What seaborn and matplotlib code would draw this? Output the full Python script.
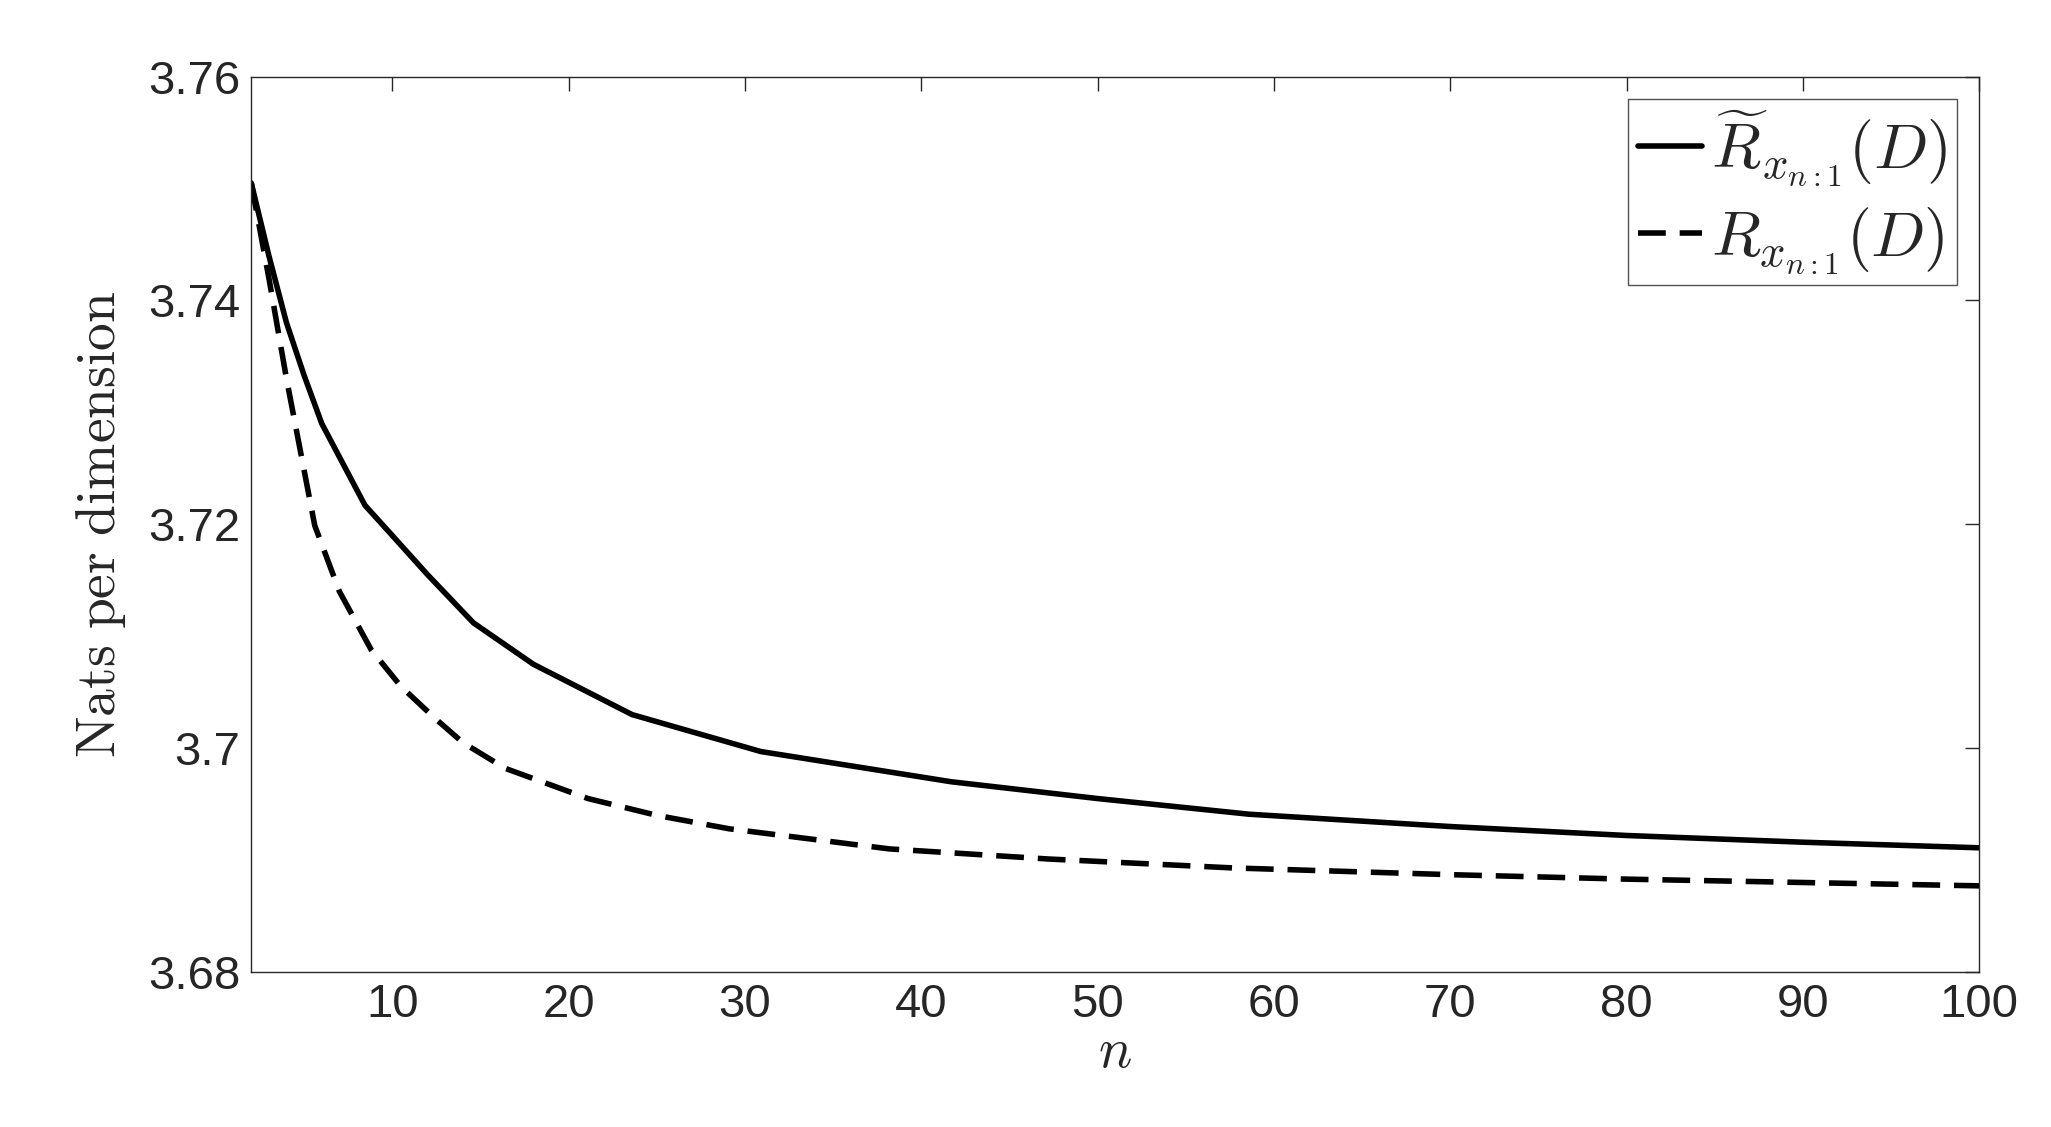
import numpy as np
import pandas as pd
import seaborn as sns
import matplotlib.pyplot as plt

# values
n_tilde = [2, 3, 4, 5, 6, 8.45, 10, 12, 14.6, 18, 23.6, 30.9, 41.7, 50, 58.6, 70, 80, 90, 100]
r_tilde = [3.7505, 3.7440, 3.7380, 3.7333, 3.7290, 3.7217, 3.7190, 3.7155, 3.7112, 3.7075,
           3.7030, 3.6997, 3.6970, 3.6955, 3.6941, 3.6930, 3.6922, 3.6916, 3.6911]
n_rate = [2, 3, 4, 5.6, 7, 8.8, 10.5, 12.4, 14, 16.4, 21.1, 25, 29.1, 38.2, 47.2, 57.7, 70, 80, 90, 100]
r_rate = [3.7505, 3.7420, 3.7330, 3.7199, 3.7140, 3.7088, 3.7055, 3.7027, 3.7005, 3.6982,
          3.6955, 3.6940, 3.6928, 3.6910, 3.6901, 3.6893, 3.6887, 3.6883, 3.6880, 3.6877]

lab_tilde = r'$\widetilde{R}_{x_{n:1}}(D)$'
lab_rate = r'$R_{x_{n:1}}(D)$'

df = pd.concat([
    pd.DataFrame({'n': n_tilde, 'rate': r_tilde, 'curve': lab_tilde}),
    pd.DataFrame({'n': n_rate, 'rate': r_rate, 'curve': lab_rate}),
])

sns.set_style('white')
plt.rcParams['font.family'] = ['Liberation Sans', 'DejaVu Sans']
plt.rcParams['mathtext.fontset'] = 'cm'

fig = plt.figure(figsize=(20.51, 11.27), dpi=100)
ax = fig.add_axes([0.1225, 0.1375, 0.8425, 0.7945])
sns.lineplot(data=df, x='n', y='rate', hue='curve', style='curve',
             palette=['black', 'black'], dashes=[(None, None), (5, 2.5)],
             linewidth=4, ax=ax, sort=False)

ax.set_xlim(2, 100)
ax.set_ylim(3.68, 3.76)
ax.set_xticks(range(10, 101, 10))
ax.set_yticks([3.68, 3.70, 3.72, 3.74, 3.76])
ax.set_yticklabels(['3.68', '3.7', '3.72', '3.74', '3.76'])
ax.tick_params(direction='in', length=10, width=1, labelsize=34, top=True, right=True,
               colors='#262626', pad=8)
for s in ax.spines.values():
    s.set_linewidth(1)
    s.set_color('#262626')
ax.set_xlabel(r'$n$', fontsize=40, labelpad=0)
ax.set_ylabel(r'$\mathrm{Nats\ per\ dimension}$', fontsize=40, labelpad=14)

leg = ax.legend(loc='upper right', fontsize=46, frameon=True, fancybox=False,
                edgecolor='#262626', handlelength=1.0, handletextpad=0.15,
                borderpad=0.15, borderaxespad=0.35, labelspacing=0.25)
leg.get_frame().set_linewidth(1)
for h in leg.get_lines():
    h.set_linewidth(4)
leg.set_title(None)

fig.savefig('out.png', dpi=100, facecolor='white')
